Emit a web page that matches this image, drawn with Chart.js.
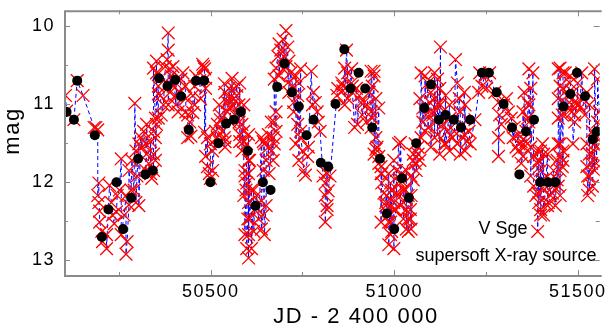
<!DOCTYPE html>
<html lang="en">
<head>
<meta charset="UTF-8" />
<title>V Sge light curve</title>
<style>
  html, body { margin: 0; padding: 0; background: #fff; }
  #wrap { position: relative; width: 610px; height: 329px; }
</style>
</head>
<body>
<div id="wrap"><canvas id="lc" width="610" height="329"></canvas></div>

<script src="https://cdn.jsdelivr.net/npm/chart.js"></script>
<script>
  // axis ticks
  const xTicks = [50500, 51000, 51500];
  const xMinor = [50250, 50750, 51250];
  const yTicks = [10, 11, 12, 13];
  const yMinor = [10.5, 11.5, 12.5];

  const xTitle = 'JD - 2 400 000';
  const yTitle = 'mag';
  const starName = 'V Sge';
  const starNote = 'supersoft X-ray source';

  // individual estimates (red crosses, joined by the dashed line)
  const obsJD = [
    50104,50107,50127,50136,50152,50182,50187,50192,
    50192,50195,50195,50197,50197,50203,50205,50216,50216,
    50224,50229,50232,50237,50243,50245,50251,50256,50256,50264,50269,50269,50272,50277,50277,50283,50285,50291,50293,50296,50296,50299,50304,50304,
    50309,50312,50317,50323,50323,50325,50325,50331,50336,50336,50339,50344,50344,50344,50344,50349,50349,50349,50352,50352,50352,50357,50357,50357,50363,
    50365,50371,50376,50381,50384,50384,50384,50389,50389,50392,50397,50397,50403,50405,50405,50411,50416,50419,50424,50430,50432,50432,50437,50437,
    50443,50446,50451,50451,50456,50456,50459,50470,50472,50478,50480,50483,50483,50486,50486,50486,50491,50491,50496,50499,50499,50505,50505,
    50513,50518,50518,50523,50523,50526,50526,50531,50537,50537,50539,50539,50539,50545,50545,50550,50550,50553,50553,50558,50558,50563,50563,50566,50571,50571,50577,50577,50579,50579,50579,50579,50585,50585,50590,50590,50590,50590,50593,50593,50593,50596,50598,50598,50598,50601,50603,50603,50603,
    50603,50603,50603,50606,50606,50611,50611,50617,50617,50619,50625,50630,50633,50638,50638,50643,50643,50643,50646,50646,50651,50651,50657,50657,50659,50665,50665,50670,50670,50673,50673,50673,50678,50678,50678,
    50683,50686,50686,50691,50697,50697,50699,50705,50705,50710,50710,50713,50713,50718,50723,50726,50726,50732,50732,50737,50737,50740,50740,50745,50745,50745,50750,50753,50758,50764,50766,
    50774,50777,50780,50785,50790,50793,50798,50806,50812,50812,50812,50817,50817,50817,50820,50825,50844,50846,50857,50860,50860,50865,50865,50870,
    50873,50873,50884,50884,50886,50886,50892,50897,50900,50905,50910,50913,50918,50924,50926,50932,50937,50937,50937,50940,50940,50945,50945,50945,50950,50950,50950,50953,50958,50958,50958,50964,50964,50964,50966,50966,50972,
    50977,50977,50980,50980,50985,50985,50985,50985,50990,50990,50990,50993,50993,50999,50999,50999,50999,51004,51006,51006,51006,51012,51017,51017,51017,51017,51020,51025,51025,51030,51033,51033,51033,51033,51038,51038,51038,51044,51044,51046,51046,51046,51052,51052,51052,
    51057,51057,51060,51065,51065,51070,51070,51073,51073,51078,51078,51084,51084,51086,51092,51092,51097,51100,51100,51105,51105,51110,51110,51110,51113,51118,51118,51118,51124,51124,
    51126,51126,51132,51137,51140,51140,51145,51151,51151,51153,51159,51164,51167,51172,51172,51177,51180,51180,51185,51191,51191,51193,51193,51198,51204,51207,51220,
    51230,51233,51239,51247,51252,51260,51274,51284,51284,51284,51287,51292,51298,51306,51311,51319,51324,51327,51332,51338,51338,51340,51346,51346,51351,51351,51354,51354,51359,51359,51364,51364,51367,51367,51367,51372,51372,51372,
    51378,51380,51380,51386,51391,51391,51391,51391,51394,51394,51399,51399,51399,51399,51404,51404,51407,51407,51407,51418,51418,51420,51426,51426,51431,51434,51434,51439,51444,51444,51447,51447,51447,51447,51447,51452,51452,51452,51452,51452,51452,51458,51458,51460,51460,51460,51460,51466,51466,
    51471,51471,51479,51479,51484,51484,51487,51487,51492,51492,51498,51500,51500,51506,51511,51514,51519,51525,51525,51525,51527,51527,51532,51532,51532,51532,51538,51540,51540,51540,51546,51546,51546,51551,51551,51551,51554,51554,51559
  ];
  const obsMag = [
    10.89,11.09,11.20,10.70,10.89,11.30,11.30,11.33,
    12.17,12.01,12.26,12.37,12.51,12.63,12.76,12.67,12.85,
    12.04,12.26,12.42,12.53,12.38,12.17,12.10,11.70,12.67,12.42,12.17,12.92,12.76,12.29,11.85,12.10,11.72,12.10,10.99,11.60,12.26,11.92,11.51,12.30,
    11.43,11.55,11.35,11.51,11.85,11.64,11.26,11.76,11.89,11.48,11.95,11.85,11.64,11.35,10.54,11.18,11.43,11.72,11.26,10.45,10.60,11.18,10.87,10.77,10.89,
    11.14,11.01,10.52,10.43,10.09,10.31,11.01,10.55,10.85,10.64,10.77,10.52,10.89,11.01,10.73,11.10,10.85,10.68,10.60,10.77,10.93,11.10,11.14,11.43,
    11.23,11.41,11.11,10.89,11.01,10.77,10.64,10.70,10.93,10.49,10.52,10.55,11.36,10.67,10.80,11.67,11.43,11.80,11.89,11.95,11.51,11.60,11.85,
    11.35,11.26,11.43,11.48,11.01,11.20,11.14,11.35,10.74,11.43,11.55,11.48,10.85,10.98,11.10,10.93,10.80,11.05,11.23,10.67,11.01,10.93,10.80,11.14,10.77,10.89,11.23,11.01,10.73,11.14,11.39,11.48,11.26,11.60,11.01,11.35,11.48,12.17,11.85,11.92,12.67,12.10,11.51,12.01,12.85,12.47,11.72,12.26,12.97,
    11.39,11.89,12.67,11.72,12.47,12.10,12.85,12.10,12.63,12.35,12.17,12.47,12.26,11.43,12.60,12.42,11.85,11.48,11.51,12.67,12.30,11.72,11.39,11.55,11.89,11.60,11.23,11.72,11.43,11.51,11.23,10.68,11.35,11.10,10.54,
    10.39,10.23,10.64,10.31,10.17,10.55,10.39,10.06,10.52,10.27,10.73,10.45,10.85,10.60,10.77,10.98,11.10,10.64,11.51,10.89,11.26,10.73,11.72,10.55,11.35,11.43,11.60,11.85,11.91,11.67,11.55,
    10.58,11.01,10.85,10.98,11.10,11.23,11.35,11.92,12.01,12.17,12.51,11.89,12.30,12.35,12.11,11.92,10.89,10.80,10.73,10.83,10.77,10.54,11.01,10.31,
    10.60,10.93,10.55,10.73,10.77,10.85,11.30,10.80,11.26,10.89,10.98,11.14,10.98,11.23,11.01,10.85,11.10,11.30,10.58,10.77,11.18,10.64,10.58,11.64,10.93,11.43,11.58,11.55,11.05,11.67,11.76,11.80,11.89,12.51,11.89,12.01,12.14,
    12.26,12.30,12.17,12.38,11.89,12.42,12.51,12.80,12.01,12.51,12.67,12.10,12.63,12.26,12.35,11.72,12.85,12.35,12.14,11.85,12.17,11.51,12.01,11.97,12.30,11.49,11.89,12.10,12.47,12.10,12.35,12.60,11.85,12.22,12.17,12.63,12.47,12.47,12.35,11.92,12.17,12.60,11.64,11.72,11.97,
    11.76,11.51,11.85,11.55,11.64,11.72,10.93,11.43,10.60,11.23,11.05,11.35,10.64,11.14,10.73,11.30,10.98,10.85,11.55,11.10,11.14,10.93,11.43,10.60,11.23,11.01,10.68,11.39,10.80,11.64,
    10.27,11.01,11.26,11.51,10.89,11.51,11.35,11.01,11.60,11.18,11.43,11.35,10.43,10.73,11.51,10.93,11.10,11.64,11.26,10.85,11.39,11.01,11.60,11.48,11.35,11.51,11.20,
    10.85,10.60,10.77,10.64,10.80,10.60,10.85,10.98,11.43,11.67,11.14,11.26,11.01,10.93,11.10,11.18,11.43,11.30,11.55,11.39,11.60,11.51,11.48,11.76,11.67,11.10,11.55,10.85,11.35,11.48,11.18,10.98,11.01,10.55,11.23,10.80,11.55,11.92,
    10.60,11.67,12.05,12.17,11.60,11.76,12.14,12.63,11.72,12.26,11.85,11.60,12.35,12.42,11.51,11.97,11.64,12.10,12.42,11.64,12.30,12.26,11.97,12.17,12.14,11.85,12.05,12.30,11.72,11.97,12.05,11.51,10.55,10.93,11.18,11.67,11.85,12.17,10.54,10.77,11.51,11.14,11.80,11.60,11.72,10.80,10.60,10.60,11.14,
    11.01,10.89,10.73,10.64,11.10,11.01,10.85,11.51,11.23,11.14,10.98,10.73,11.01,11.05,10.60,10.93,11.14,10.85,11.51,11.80,11.92,12.17,11.64,11.01,11.92,12.10,11.76,11.64,11.35,12.05,11.51,11.85,10.55,11.55,11.43,11.76,11.23,10.68,11.10
  ];

  // mean values (black dots)
  const meanJD = [
    50107,50127,50136,50184,50203,50221,50243,50261,50283,50302,50322,50342,
    50359,50382,50403,50419,50440,50460,50482,50499,50521,50542,50563,50582,
    50601,50622,50642,50663,50681,50701,50721,50740,50761,50780,50800,50820,
    50840,50864,50881,50903,50921,50940,50961,50980,51000,51021,51040,51060,
    51082,51100,51122,51140,51162,51182,51207,51239,51258,51279,51298,51321,
    51341,51359,51381,51398,51419,51439,51461,51480,51498,51520,51541,51552
  ];
  const meanMag = [
    11.10,11.20,10.70,11.40,12.70,12.35,12.00,12.60,12.20,11.70,11.90,11.85,
    10.67,10.77,10.69,10.90,11.33,10.70,10.70,12.00,11.50,11.25,11.20,11.10,
    11.60,12.30,12.00,12.10,10.78,10.48,10.85,11.03,11.40,11.20,11.75,11.80,
    11.00,10.30,10.80,10.60,10.80,11.30,11.70,12.40,12.60,11.95,12.20,11.50,
    11.05,10.75,11.20,11.14,11.20,11.30,11.20,10.60,10.60,10.85,11.00,11.30,
    11.90,11.35,11.20,12.00,12.00,12.00,11.03,10.87,10.60,10.90,11.45,11.35
  ];

  const FONT = '"Liberation Sans", Arial, Helvetica, sans-serif';
  Chart.defaults.font.family = FONT;
  Chart.defaults.color = '#000';

  const obsPoints = obsJD.map((jd, i) => ({ x: jd, y: obsMag[i] }));
  const meanPoints = meanJD.map((jd, i) => ({ x: jd, y: meanMag[i] }));

  // wider letter spacing for the axis numbers
  const spacing = {
    id: 'spacing',
    beforeDraw(chart) { chart.ctx.letterSpacing = '1.5px'; }
  };

  // inward tick marks and the grey frame
  const frame = {
    id: 'frame',
    afterDatasetsDraw(chart) {
      const { ctx, chartArea: a, scales: { x, y } } = chart;
      ctx.save();
      ctx.strokeStyle = '#8a8a8a';
      ctx.lineWidth = 1;
      ctx.beginPath();
      const xt = (v, len) => {
        const p = Math.round(x.getPixelForValue(v)) + 0.5;
        ctx.moveTo(p, a.bottom); ctx.lineTo(p, a.bottom - len);
        ctx.moveTo(p, a.top); ctx.lineTo(p, a.top + len);
      };
      const yt = (v, len) => {
        const p = Math.round(y.getPixelForValue(v)) + 0.5;
        ctx.moveTo(a.left, p); ctx.lineTo(a.left + len, p);
        ctx.moveTo(a.right, p); ctx.lineTo(a.right - len, p);
      };
      xTicks.forEach(v => xt(v, 6));
      xMinor.forEach(v => xt(v, 4));
      yTicks.forEach(v => yt(v, 6));
      yMinor.forEach(v => yt(v, 4));
      ctx.stroke();

      ctx.lineWidth = 2;
      ctx.beginPath();
      ctx.moveTo(a.right + 2, a.top + 1);
      ctx.lineTo(a.left + 1, a.top + 1);
      ctx.lineTo(a.left + 1, a.bottom);
      ctx.lineTo(a.right + 2, a.bottom);
      ctx.stroke();
      ctx.restore();
    }
  };

  // axis titles and the note in the corner
  const labels = {
    id: 'labels',
    afterDraw(chart) {
      const ctx = chart.ctx;
      ctx.save();
      ctx.fillStyle = '#000';
      ctx.textAlign = 'center';
      ctx.textBaseline = 'alphabetic';
      ctx.letterSpacing = '1.5px';
      ctx.font = '22px ' + FONT;
      ctx.fillText(xTitle, 356, 323);
      ctx.save();
      ctx.translate(19, 131);
      ctx.rotate(-Math.PI / 2);
      ctx.fillText(yTitle, 0, 0);
      ctx.restore();
      ctx.letterSpacing = '0px';
      ctx.font = '18px ' + FONT;
      ctx.fillText(starName, 503, 234);
      ctx.fillText(starNote, 506, 261);
      ctx.restore();
    }
  };

  new Chart(document.getElementById('lc'), {
    type: 'scatter',
    data: {
      datasets: [
        {
          label: 'mean',
          data: meanPoints,
          pointStyle: 'circle',
          pointRadius: 5,
          pointBorderWidth: 0,
          pointBackgroundColor: '#000',
          clip: 0,
          order: 0
        },
        {
          label: 'estimates',
          data: obsPoints,
          pointStyle: 'crossRot',
          pointRadius: 9,
          pointBorderWidth: 1.3,
          pointBorderColor: '#ff0000',
          clip: 0,
          order: 1
        },
        {
          label: 'trace',
          data: obsPoints,
          showLine: true,
          pointRadius: 0,
          borderColor: '#0000ff',
          borderWidth: 1,
          borderDash: [4, 3],
          clip: 0,
          order: 2
        }
      ]
    },
    options: {
      responsive: false,
      animation: false,
      devicePixelRatio: 1,
      layout: { padding: { top: 2, right: 0, left: 0, bottom: 0 } },
      plugins: { legend: { display: false }, tooltip: { enabled: false } },
      scales: {
        x: {
          type: 'linear',
          min: 50100,
          max: 51560,
          grid: { display: false, drawTicks: false },
          border: { display: false },
          ticks: { font: { size: 18 }, padding: 5, callback: v => String(v) },
          afterBuildTicks: s => { s.ticks = xTicks.map(v => ({ value: v })); },
          afterFit: s => { s.height = 53; s.paddingLeft = 0; s.paddingRight = 0; }
        },
        y: {
          type: 'linear',
          reverse: true,
          min: 9.8,
          max: 13.2,
          grid: { display: false, drawTicks: false },
          border: { display: false },
          ticks: { font: { size: 18 }, padding: 9, callback: v => String(v) },
          afterBuildTicks: s => { s.ticks = yTicks.map(v => ({ value: v })); },
          afterFit: s => { s.width = 64; s.paddingTop = 0; s.paddingBottom = 0; }
        }
      }
    },
    plugins: [spacing, frame, labels]
  });
</script>
</body>
</html>
